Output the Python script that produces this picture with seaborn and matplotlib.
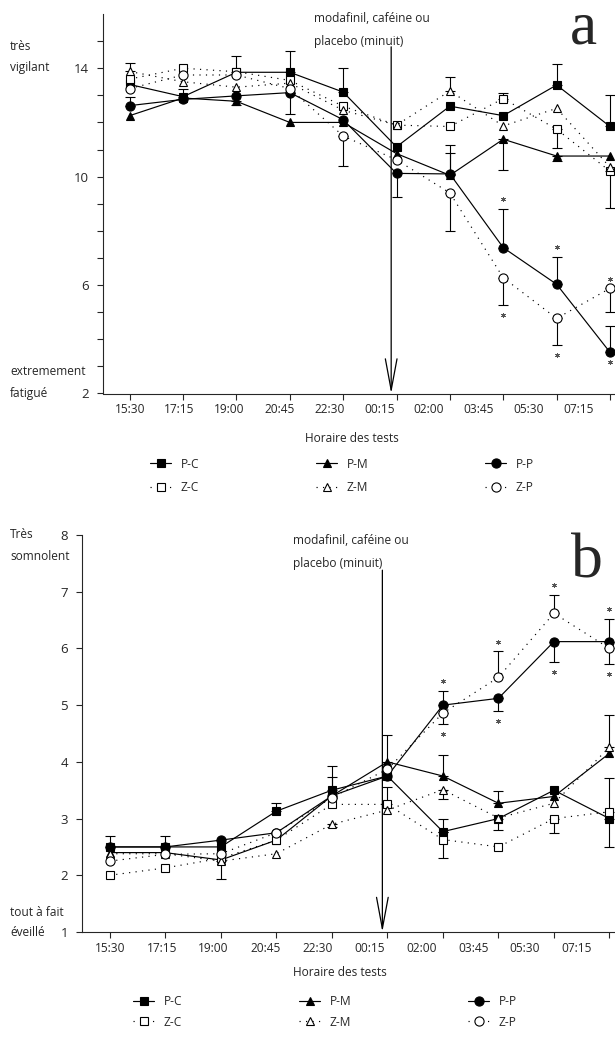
import numpy as np
import pandas as pd
import matplotlib
matplotlib.use("Agg")
import matplotlib.pyplot as plt
import matplotlib.transforms as mtransforms
from matplotlib.lines import Line2D
import seaborn as sns

# ---------------- data ----------------
times = ["15:30", "17:15", "19:00", "20:45", "22:30", "00:15", "02:00", "03:45", "05:30", "07:15"]
series = ["P-C", "P-M", "P-P", "Z-C", "Z-M", "Z-P"]

# panel a : vigilance (2 = extremement fatigue, 14+ = tres vigilant)
a_pc = [13.40, 12.95, 13.85, 13.85, 13.12, 11.10, 12.60, 12.25, 13.38, 11.85]
a_pm = [12.25, 12.90, 12.78, 12.00, 12.00, 10.85, 10.05, 11.38, 10.76, 10.76]
a_pp = [12.62, 12.85, 12.98, 13.10, 12.10, 10.12, 10.10, 7.38, 6.03, 3.52]
a_zc = [13.60, 14.00, 13.87, 13.55, 12.60, 11.90, 11.85, 12.88, 11.75, 10.20]
a_zm = [13.88, 13.50, 13.30, 13.45, 12.45, 11.90, 13.16, 11.87, 12.52, 10.35]
a_zp = [13.25, 13.75, 13.75, 13.25, 11.50, 10.62, 9.40, 6.27, 4.77, 5.88]

a_pc_up = [0, 0.30, 0, 0.80, 0.88, 0, 0, 0, 0.77, 1.16]
a_pc_dn = [0, 0, 0, 0, 0, 0, 0, 0, 0, 0]
a_pm_up = [0, 0, 0, 0, 0, 0, 0.81, 0, 0, 0]
a_pm_dn = [0, 0, 0.12, 0, 0, 0, 0, 1.13, 0.20, 0]
a_pp_up = [0.30, 0, 0, 0, 0, 0, 1.07, 1.43, 1.02, 0.98]
a_pp_dn = [0, 0, 0, 0.80, 0, 0.86, 0, 0, 0, 0]
a_zc_up = [0, 0, 0.58, 0, 0, 0, 0, 0.22, 0, 0]
a_zc_dn = [0, 0, 0, 0, 0, 0, 0, 0, 0.68, 1.35]
a_zm_up = [0.30, 0, 0, 0, 0, 0, 0.50, 0, 0, 0]
a_zm_dn = [0, 0, 0, 0, 0, 0, 0, 0, 0, 0]
a_zp_up = [0, 0, 0, 0, 0, 0, 0, 0, 0, 0]
a_zp_dn = [0, 0, 0, 0, 1.10, 0, 1.40, 1.00, 0.98, 0.86]

# significance stars for panel a : (series, time index, side)
a_stars = [("P-P", 7, "up"), ("P-P", 8, "up"), ("Z-P", 9, "up"),
           ("Z-P", 7, "dn"), ("Z-P", 8, "dn"), ("P-P", 9, "dn")]

# panel b : somnolence (1 = tout a fait eveille, 8 = tres somnolent)
b_pc = [2.50, 2.50, 2.50, 3.13, 3.50, 3.75, 2.77, 3.00, 3.50, 3.00]
b_pm = [2.40, 2.40, 2.27, 2.62, 3.40, 4.00, 3.75, 3.27, 3.39, 4.15]
b_pp = [2.50, 2.50, 2.62, 2.75, 3.40, 3.75, 5.00, 5.12, 6.12, 6.12]
b_zc = [2.00, 2.13, 2.30, 2.62, 3.25, 3.25, 2.63, 2.50, 3.00, 3.12]
b_zm = [2.38, 2.38, 2.25, 2.38, 2.90, 3.15, 3.51, 3.01, 3.27, 4.26]
b_zp = [2.25, 2.37, 2.38, 2.75, 3.37, 3.87, 4.86, 5.49, 6.62, 6.00]

b_pc_up = [0.20, 0.20, 0, 0.15, 0.43, 0, 0.22, 0, 0, 0]
b_pc_dn = [0, 0, 0, 0, 0, 0, 0.46, 0.20, 0, 0.50]
b_pm_up = [0, 0, 0, 0, 0, 0.47, 0.37, 0.22, 0, 0]
b_pm_dn = [0, 0, 0, 0, 0, 0, 0, 0, 0, 0]
b_pp_up = [0, 0, 0, 0, 0, 0, 0.25, 0, 0, 0.40]
b_pp_dn = [0, 0, 0, 0, 0, 0, 0, 0.22, 0.36, 0]
b_zc_up = [0, 0, 0, 0, 0, 0.30, 0, 0, 0, 0.60]
b_zc_dn = [0, 0, 0, 0, 0, 0, 0, 0, 0.25, 0]
b_zm_up = [0, 0, 0, 0, 0, 0, 0, 0, 0, 0.57]
b_zm_dn = [0, 0, 0.31, 0, 0.05, 0, 0.17, 0, 0, 0]
b_zp_up = [0, 0, 0, 0, 0.36, 0, 0, 0.46, 0.32, 0]
b_zp_dn = [0, 0, 0, 0, 0, 0, 0.19, 0, 0, 0.28]

b_stars = [("P-P", 6, "up"), ("Z-P", 7, "up"), ("Z-P", 8, "up"), ("P-P", 9, "up"),
           ("Z-P", 6, "dn"), ("P-P", 7, "dn"), ("P-P", 8, "dn"), ("Z-P", 9, "dn")]

# ---------------- style ----------------
sns.set_style("ticks")
plt.rcParams["font.family"] = ["Open Sans", "DejaVu Sans"]
plt.rcParams["axes.linewidth"] = 0.8

W, H = 615, 1040
fig = plt.figure(figsize=(W / 100, H / 100), dpi=100)
FS = 8.6


def px_axes(left, top, right, bottom):
    return fig.add_axes([left / W, 1 - bottom / H, (right - left) / W, (bottom - top) / H])


def ftext(x, y, s, **kw):
    kw.setdefault("va", "center")
    kw.setdefault("ha", "left")
    kw.setdefault("fontsize", FS)
    fig.text(x / W, 1 - y / H, s, **kw)


styles = {
    "P-C": dict(marker="s", mfc="black", ls="-", ms=5.8),
    "P-M": dict(marker="^", mfc="black", ls="-", ms=6.4),
    "P-P": dict(marker="o", mfc="black", ls="-", ms=6.6),
    "Z-C": dict(marker="s", mfc="white", ls=(0, (1, 4.5)), ms=5.8),
    "Z-M": dict(marker="^", mfc="white", ls=(0, (1, 4.5)), ms=6.4),
    "Z-P": dict(marker="o", mfc="white", ls=(0, (1, 4.5)), ms=6.6),
}


def draw_panel(ax, vals, ups, dns, stars):
    x = np.arange(len(times))
    # error bars (one-sided, drawn under markers)
    for name in series:
        v = np.array(vals[name], float)
        up = np.array(ups[name], float)
        dn = np.array(dns[name], float)
        m = up > 0
        if m.any():
            ax.errorbar(x[m], v[m], yerr=[np.zeros(m.sum()), up[m]], fmt="none",
                        ecolor="black", elinewidth=0.8, capsize=3.6, capthick=0.8,
                        zorder=1, clip_on=False)
        m = dn > 0
        if m.any():
            ax.errorbar(x[m], v[m], yerr=[dn[m], np.zeros(m.sum())], fmt="none",
                        ecolor="black", elinewidth=0.8, capsize=3.6, capthick=0.8,
                        zorder=1, clip_on=False)
    # lines + markers
    for k, name in enumerate(series):
        st = styles[name]
        df = pd.DataFrame({"t": x, "v": vals[name]})
        sns.lineplot(data=df, x="t", y="v", ax=ax, color="black", lw=0.85,
                     linestyle=st["ls"], marker=st["marker"], markersize=st["ms"],
                     markerfacecolor=st["mfc"], markeredgecolor="black",
                     markeredgewidth=0.8, errorbar=None, label=name,
                     zorder=3 + k, clip_on=False)
    # significance stars
    for name, i, side in stars:
        v = vals[name][i]
        if side == "up":
            y = v + ups[name][i]
            off = 7
        else:
            y = v - dns[name][i]
            off = -7
        tr = mtransforms.offset_copy(ax.transData, fig=fig, x=0, y=off, units="points")
        ax.plot([i], [y], marker=(6, 2, 0), ms=3.5, mew=0.6, color="#555555",
                transform=tr, clip_on=False, zorder=10)
    sns.despine(ax=ax)
    ax.set_xlabel("")
    ax.set_ylabel("")
    ax.xaxis.remove_overlapping_locs = False
    ax.set_xticks(x)
    ax.set_xticklabels([""] * len(times))
    ax.set_xticks(x * 0.935, labels=times, minor=True)
    ax.tick_params(axis="x", which="major", length=4, width=0.8, direction="out")
    ax.tick_params(axis="x", which="minor", length=0, pad=7, labelsize=FS)
    ax.tick_params(axis="y", which="both", length=4, width=0.8, direction="out",
                   labelsize=9.5, pad=6)
    if ax.get_legend() is not None:
        ax.get_legend().remove()


def add_legend(ax, cx, cy, spacing):
    order = ["P-C", "Z-C", "P-M", "Z-M", "P-P", "Z-P"]
    hs = []
    for n in order:
        st = styles[n]
        hs.append(Line2D([], [], color="black", lw=0.85, ls=st["ls"], marker=st["marker"],
                         ms=st["ms"], mfc=st["mfc"], mec="black", mew=0.8))
    fig.legend(hs, order, ncol=3, loc="center", bbox_to_anchor=(cx / W, 1 - cy / H),
               frameon=False, fontsize=FS, handlelength=1.75, handletextpad=0.8,
               columnspacing=9.8, labelspacing=spacing, borderpad=0)


def arrow_and_text(ax, xpos, ytop, ybot, tx, ty):
    ax.annotate("", xy=(xpos, ybot), xytext=(xpos, ytop), xycoords="data",
                arrowprops=dict(arrowstyle="->,head_length=1.5,head_width=0.28",
                                color="black", lw=0.9, shrinkA=0, shrinkB=0,
                                mutation_scale=15),
                annotation_clip=False, zorder=0)
    ftext(tx, ty, "modafinil, caféine ou")
    ftext(tx, ty + 22, "placebo (minuit)")


# ---------------- panel a ----------------
ax_a = px_axes(103, 14, 615, 393.5)
vals_a = dict(zip(series, [a_pc, a_pm, a_pp, a_zc, a_zm, a_zp]))
ups_a = dict(zip(series, [a_pc_up, a_pm_up, a_pp_up, a_zc_up, a_zm_up, a_zp_up]))
dns_a = dict(zip(series, [a_pc_dn, a_pm_dn, a_pp_dn, a_zc_dn, a_zm_dn, a_zp_dn]))
draw_panel(ax_a, vals_a, ups_a, dns_a, a_stars)
ax_a.set_xlim(-0.5, 9.094)
ax_a.set_ylim(2, 16)
ax_a.set_yticks([2, 6, 10, 14])
ax_a.set_yticks([v for v in range(3, 16) if v not in (6, 10, 14)], minor=True)
arrow_and_text(ax_a, 4.9, 14.79, 2, 314, 19)
ftext(10, 47, "très")
ftext(10, 68, "vigilant")
ftext(10, 371, "extremement")
ftext(10, 393, "fatigué")
ftext(352, 438, "Horaire des tests", ha="center")
fig.text(583 / W, 1 - 43 / H, "a", fontsize=44, ha="center", va="baseline",
         family=["Liberation Serif", "DejaVu Serif"])
add_legend(ax_a, 342, 476, 0.9)

# ---------------- panel b ----------------
ax_b = px_axes(82, 535, 615, 932)
vals_b = dict(zip(series, [b_pc, b_pm, b_pp, b_zc, b_zm, b_zp]))
ups_b = dict(zip(series, [b_pc_up, b_pm_up, b_pp_up, b_zc_up, b_zm_up, b_zp_up]))
dns_b = dict(zip(series, [b_pc_dn, b_pm_dn, b_pp_dn, b_zc_dn, b_zm_dn, b_zp_dn]))
draw_panel(ax_b, vals_b, ups_b, dns_b, b_stars)
ax_b.set_xlim(-0.5, 9.1)
ax_b.set_ylim(1, 8)
ax_b.set_yticks(range(1, 9))
arrow_and_text(ax_b, 4.91, 7.38, 1, 293, 541)
ftext(10, 535, "Très")
ftext(10, 557, "somnolent")
ftext(10, 912, "tout à fait")
ftext(10, 932, "éveillé")
ftext(340, 972, "Horaire des tests", ha="center")
fig.text(587 / W, 1 - 577 / H, "b", fontsize=46, ha="center", va="baseline",
         family=["Liberation Serif", "DejaVu Serif"])
add_legend(ax_b, 325, 1012, 0.6)

fig.savefig("out.png", dpi=100)
